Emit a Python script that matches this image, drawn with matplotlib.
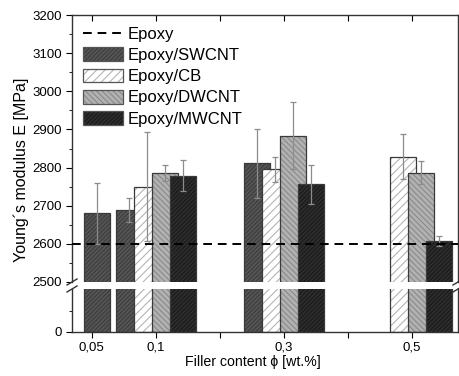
import numpy as np
import matplotlib
matplotlib.use("Agg")
import matplotlib.pyplot as plt
from matplotlib.lines import Line2D
from matplotlib.patches import Patch
from matplotlib.legend_handler import HandlerTuple

plt.rcParams['font.family'] = ['Liberation Sans', 'DejaVu Sans']
plt.rcParams['hatch.linewidth'] = 0.8

# ---- data ----
categories = ['0,05', '0,1', '0,3', '0,5']
cat_pos = [0, 1, 3, 5]
epoxy = 2600
swcnt = [2680, 2688, 2811, np.nan]
swcnt_err = [80, 32, 90, np.nan]
cb = [np.nan, 2750, 2795, 2829]
cb_err = [np.nan, 142, 33, 60]
dwcnt = [np.nan, 2786, 2884, 2787]
dwcnt_err = [np.nan, 22, 88, 31]
mwcnt = [np.nan, 2779, 2756, 2607]
mwcnt_err = [np.nan, 40, 52, 13]

series = [
    ('Epoxy/SWCNT', swcnt, swcnt_err, [0.08, -0.42, -0.42, -0.42], '#565656', '#3c3c3c', '////////'),
    ('Epoxy/CB', cb, cb_err, [-0.14] * 4, '#ffffff', '#b4b4b4', '////'),
    ('Epoxy/DWCNT', dwcnt, dwcnt_err, [0.14] * 4, '#b2b2b2', '#8a8a8a', '\\\\\\\\\\\\'),
    ('Epoxy/MWCNT', mwcnt, mwcnt_err, [0.42] * 4, '#1e1e1e', '#333333', '////////'),
]
width = 0.41

W, H = 459, 376
fig = plt.figure(figsize=(W / 100, H / 100), dpi=100)
L, R = 72 / W, 458 / W
ax_u = fig.add_axes([L, 94 / H, R - L, (361 - 94) / H])
ax_l = fig.add_axes([L, 44 / H, R - L, (87 - 44) / H])

xlim = (-0.31, 5.72)
for ax in (ax_u, ax_l):
    for name, vals, errs, offs, fc, hc, hatch in series:
        x = np.array(cat_pos) + np.array(offs)
        v = np.array(vals, dtype=float)
        m = ~np.isnan(v)
        ax.bar(x[m], v[m], width=width, color=fc, edgecolor=hc, hatch=hatch,
               linewidth=0, zorder=2)
        ax.bar(x[m], v[m], width=width, color='none', edgecolor='#3a3a3a',
               linewidth=0.9, zorder=2)
        if ax is ax_u:
            e = np.array(errs, dtype=float)
            ax.errorbar(x[m], v[m], yerr=e[m], fmt='none', ecolor='#8c8c8c',
                        elinewidth=0.9, capsize=2.5, capthick=0.9, zorder=3)
    ax.set_xlim(*xlim)

ax_u.axhline(epoxy, color='black', linestyle=(0, (4.5, 3)), linewidth=1.4, zorder=4)

# upper axes
ax_u.set_ylim(2500, 3200)
ax_u.set_yticks(np.arange(2500, 3201, 100))
ax_u.set_yticks(np.arange(2550, 3200, 100), minor=True)
ax_u.spines['bottom'].set_visible(False)
ax_u.tick_params(axis='x', which='both', bottom=False, labelbottom=False,
                 top=True, direction='in', length=4)
ax_u.set_xticks(range(6))
ax_u.tick_params(axis='y', which='major', left=True, right=True, direction='out',
                 length=4, labelsize=9.5)
ax_u.tick_params(axis='y', which='minor', left=True, right=True, direction='out', length=2)

# lower axes
ax_l.set_ylim(0, 100)
ax_l.set_yticks([0])
ax_l.set_yticks([50], minor=True)
ax_l.spines['top'].set_visible(False)
ax_l.set_xticks(range(6))
ax_l.set_xticklabels(['0,05', '0,1', '', '0,3', '', '0,5'])
ax_l.tick_params(axis='x', which='both', direction='out', length=4, labelsize=9.5, pad=3)
ax_l.tick_params(axis='y', which='major', direction='out', length=4, labelsize=9.5)
ax_l.tick_params(axis='y', which='minor', direction='out', length=2)

for ax in (ax_u, ax_l):
    for s in ax.spines.values():
        s.set_linewidth(1.0)
        s.set_color('#333333')

# break marks
for xx in (L, R):
    for yy in (94 / H, 87 / H):
        fig.add_artist(Line2D([xx - 5 / W, xx + 5 / W], [yy - 3 / H, yy + 3 / H],
                              transform=fig.transFigure, color='#333333', lw=1.0))

# legend
handles = [Line2D([0], [0], color='black', linestyle=(0, (4.5, 3)), lw=1.4)]
for name, vals, errs, offs, fc, hc, hatch in series:
    handles.append((Patch(facecolor=fc, edgecolor=hc, hatch=hatch, linewidth=0),
                    Patch(facecolor='none', edgecolor='#555555', linewidth=0.9)))
labels = ['Epoxy'] + [s[0] for s in series]
leg = ax_u.legend(handles, labels, loc='upper left', bbox_to_anchor=(0.028, 0.958),
                  frameon=False, fontsize=12, handlelength=2.4, handleheight=0.9,
                  handletextpad=0.3, labelspacing=0.33, borderpad=0, borderaxespad=0,
                  handler_map={tuple: HandlerTuple(ndivide=1, pad=0)})

fig.text(21 / W, 1 - 170 / H, 'Young´s modulus E [MPa]', rotation=90,
         ha='center', va='center', fontsize=11.5)
fig.text(253 / W, 1 - 362 / H, 'Filler content ϕ [wt.%]', ha='center', va='center',
         fontsize=10.2)

fig.savefig('out.png', dpi=100)
